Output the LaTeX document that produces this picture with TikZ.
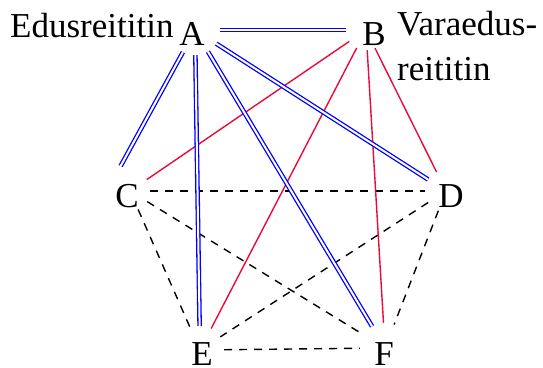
\documentclass[tikz,border=0pt]{standalone}
\usepackage{fontspec}
\setmainfont{Liberation Serif}
\definecolor{lnred}{RGB}{235,10,55}
\definecolor{lnblue}{RGB}{0,0,255}
\begin{document}
\begin{tikzpicture}[x=1pt,y=-1pt,
  hub/.style={circle,inner sep=0pt,minimum size=#1},
  hub/.default=46pt,
  lab/.style={font=\fontsize{35}{42}\selectfont,inner sep=0pt,anchor=base},
  txt/.style={font=\fontsize{35}{42}\selectfont,inner sep=0pt,anchor=base west},
  primary/.style={draw=lnblue,double=white,line width=1.3pt,double distance=2pt},
  backup/.style={draw=lnred,line width=1.4pt},
  other/.style={draw=black,line width=1.4pt,dash pattern=on 8pt off 7pt}]
\useasboundingbox (0,0) rectangle (543,367);
% connection hubs
\node[hub=50pt] (A) at (195,30) {};
\node[hub=40pt] (B) at (366,30) {};
\node[hub=40pt] (C) at (130,191) {};
\node[hub=42pt] (D) at (446,191) {};
\node[hub=48pt] (E) at (200,350) {};
\node[hub=50pt] (F) at (385,348) {};
% letters
\node[lab] (tA) at (192,45) {A};
\node[lab] (tB) at (374,45) {B};
\node[lab] (tC) at (127,207) {C};
\node[lab] (tD) at (451,207) {D};
\node[lab] (tE) at (202,365) {E};
\node[lab] (tF) at (384,365) {F};
% annotations
\node[txt] (edus) at (10,37) {Edusreititin};
\node[txt] (vara1) at (397,35) {Varaedus-};
\node[txt] (vara2) at (397,80) {reititin};
% dashed other links
\draw[other] (C) -- (D);
\draw[other] (C) -- (E);
\draw[other] (C) -- (F);
\draw[other] (D) -- (E);
\draw[other] (D) -- (F);
\draw[other] (E) -- (F);
% backup (red)
\draw[backup] (B) -- (C);
\draw[backup] (B) -- (E);
\draw[backup] (B) -- (F);
\draw[backup] (B) -- (D);
% primary (blue double)
\draw[primary] (A) -- (B);
\draw[primary,shorten >=17pt] (A) -- (C.150);
\draw[primary] (A) -- (E);
\draw[primary] (A) -- (F);
\draw[primary] (A) -- (D);
\end{tikzpicture}
\end{document}
